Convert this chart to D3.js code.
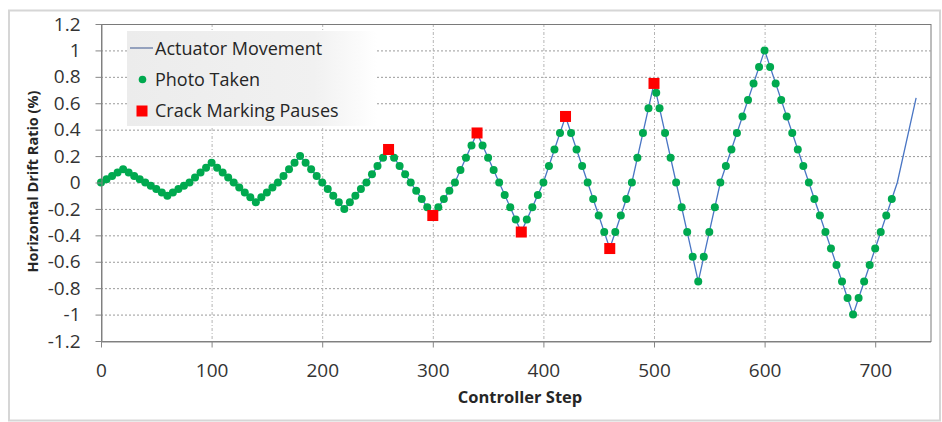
<!DOCTYPE html>
<html>
<head>
<meta charset="utf-8">
<script src="https://cdn.jsdelivr.net/npm/d3@7"></script>
<style>
  body { margin: 0; background: #fff; }
</style>
</head>
<body>
<svg id="chart" width="942" height="422"></svg>
<script>
// actuator path: peaks and zero crossings (controller step, drift %)
const actuator = [
    [0, 0], [20, 0.1], [40, 0], [60, -0.1], [80, 0], [100, 0.15], [120, 0], [140, -0.15],
    [160, 0], [180, 0.2], [200, 0], [220, -0.2], [240, 0], [260, 0.25], [280, 0], [300, -0.25],
    [320, 0], [340, 0.375], [360, 0], [380, -0.375], [400, 0], [420, 0.5], [440, 0], [460, -0.5],
    [480, 0], [500, 0.75], [520, 0], [540, -0.75], [560, 0], [600, 1.0], [640, 0], [680, -1.0],
    [720, 0], [737, 0.64]
];

// photo points
const photoTaken = [
    [0, 0], [5, 0.025], [10, 0.05], [15, 0.075], [20, 0.1],
    [25, 0.075], [30, 0.05], [35, 0.025], [40, 0], [45, -0.025], [50, -0.05], [55, -0.075], [60, -0.1],
    [65, -0.075], [70, -0.05], [75, -0.025], [80, 0], [85, 0.0375], [90, 0.075], [95, 0.1125], [100, 0.15],
    [105, 0.1125], [110, 0.075], [115, 0.0375], [120, 0], [125, -0.0375], [130, -0.075], [135, -0.1125], [140, -0.15],
    [145, -0.1125], [150, -0.075], [155, -0.0375], [160, 0], [165, 0.05], [170, 0.1], [175, 0.15], [180, 0.2],
    [185, 0.15], [190, 0.1], [195, 0.05], [200, 0], [205, -0.05], [210, -0.1], [215, -0.15], [220, -0.2],
    [225, -0.15], [230, -0.1], [235, -0.05], [240, 0], [245, 0.0625], [250, 0.125], [255, 0.1875], [260, 0.25],
    [265, 0.1875], [270, 0.125], [275, 0.0625], [280, 0], [285, -0.0625], [290, -0.125], [295, -0.1875], [300, -0.25],
    [305, -0.1875], [310, -0.125], [315, -0.0625], [320, 0], [325, 0.094], [330, 0.1875], [335, 0.281], [340, 0.375],
    [345, 0.281], [350, 0.1875], [355, 0.094], [360, 0], [365, -0.094], [370, -0.1875], [375, -0.281], [380, -0.375],
    [385, -0.281], [390, -0.1875], [395, -0.094], [400, 0], [405, 0.125], [410, 0.25], [415, 0.375], [420, 0.5],
    [425, 0.375], [430, 0.25], [435, 0.125], [440, 0], [445, -0.125], [450, -0.25], [455, -0.375], [460, -0.5],
    [465, -0.375], [470, -0.25], [475, -0.125], [480, 0], [485, 0.1875], [490, 0.375], [495, 0.5625], [500, 0.75], [502, 0.68],
    [505, 0.5625], [510, 0.375], [515, 0.1875], [520, 0], [525, -0.1875], [530, -0.375], [535, -0.5625], [540, -0.75],
    [545, -0.5625], [550, -0.375], [555, -0.1875], [560, 0], [565, 0.125], [570, 0.25], [575, 0.375], [580, 0.5],
    [585, 0.625], [590, 0.75], [595, 0.875], [600, 1.0],
    [605, 0.875], [610, 0.75], [615, 0.625], [620, 0.5], [625, 0.375], [630, 0.25], [635, 0.125], [640, 0],
    [645, -0.125], [650, -0.25], [655, -0.375], [660, -0.5], [665, -0.625], [670, -0.75], [675, -0.875], [680, -1.0],
    [685, -0.875], [690, -0.75], [695, -0.625], [700, -0.5], [705, -0.375], [710, -0.25], [715, -0.125]
];

const crackPauses = [[260, 0.25], [300, -0.25], [340, 0.375], [380, -0.375], [420, 0.5], [460, -0.5], [500, 0.75]];

const xTicks = [0, 100, 200, 300, 400, 500, 600, 700];
const yTicks = [-1.2, -1, -0.8, -0.6, -0.4, -0.2, 0, 0.2, 0.4, 0.6, 0.8, 1, 1.2];
const legendNames = ["Actuator Movement", "Photo Taken", "Crack Marking Pauses"];

const lineColor = "#4a76c4";
const dotColor = "#00a94f";
const pauseColor = "#ff0000";

let svg = d3.select("#chart");

let x = d3.scaleLinear().domain([0, 750]).range([101, 930.5]);
let y = d3.scaleLinear().domain([-1.2, 1.2]).range([341, 24]);

// outer chart frame
svg.append("rect")
    .attr("x", 9).attr("y", 10.5)
    .attr("width", 931).attr("height", 410)
    .attr("fill", "#fff")
    .attr("stroke", "#d6d6d6")
    .attr("stroke-width", 2);

// gridlines
svg.append("g").selectAll("line")
    .data(yTicks.slice(1, -1))
    .join("line")
    .attr("x1", x(0)).attr("x2", x(750))
    .attr("y1", d => y(d) + 0.5).attr("y2", d => y(d) + 0.5)
    .attr("stroke", "#9a9a9a")
    .attr("stroke-dasharray", "2,2");

svg.append("g").selectAll("line")
    .data(xTicks.slice(1))
    .join("line")
    .attr("x1", d => x(d) + 0.5).attr("x2", d => x(d) + 0.5)
    .attr("y1", y(1.2)).attr("y2", y(-1.2))
    .attr("stroke", "#b4b4b4")
    .attr("stroke-dasharray", "3,2,1,2");

// plot border
svg.append("rect")
    .attr("x", x(0) + 0.5).attr("y", y(1.2) + 0.5)
    .attr("width", x(750) - x(0)).attr("height", y(-1.2) - y(1.2))
    .attr("fill", "none")
    .attr("stroke", "#7a7a7a");

// legend
let grad = svg.append("defs").append("linearGradient").attr("id", "legendFill");
grad.append("stop").attr("offset", "0%").attr("stop-color", "#ececec");
grad.append("stop").attr("offset", "75%").attr("stop-color", "#f1f1f1");
grad.append("stop").attr("offset", "100%").attr("stop-color", "#ffffff");

let legend = svg.append("g");
legend.append("rect")
    .attr("x", 127).attr("y", 31)
    .attr("width", 250).attr("height", 95)
    .attr("fill", "url(#legendFill)");

legend.append("line")
    .attr("x1", 130).attr("x2", 153)
    .attr("y1", 48).attr("y2", 48)
    .attr("stroke", "#5a6f9e").attr("stroke-width", 1.2);
legend.append("circle")
    .attr("cx", 142.5).attr("cy", 79.5).attr("r", 3.8)
    .attr("fill", dotColor);
legend.append("rect")
    .attr("x", 136.5).attr("y", 105.5).attr("width", 11).attr("height", 11)
    .attr("fill", pauseColor);

legend.selectAll("text")
    .data(legendNames)
    .join("text")
    .attr("x", 155)
    .attr("y", (d, i) => 54.5 + i * 31)
    .style("font-family", "Open Sans")
    .style("font-size", "18px")
    .attr("fill", "#262626")
    .text(d => d);

// actuator movement
let line = d3.line()
    .x(d => x(d[0]))
    .y(d => y(d[1]));

svg.append("path")
    .datum(actuator)
    .attr("d", line)
    .attr("fill", "none")
    .attr("stroke", lineColor)
    .attr("stroke-width", 1.3);

// photos
svg.append("g").selectAll("circle")
    .data(photoTaken)
    .join("circle")
    .attr("cx", d => x(d[0]))
    .attr("cy", d => y(d[1]))
    .attr("r", 4)
    .attr("fill", dotColor);

// crack marking pauses
svg.append("g").selectAll("rect")
    .data(crackPauses)
    .join("rect")
    .attr("x", d => x(d[0]) - 5.5)
    .attr("y", d => y(d[1]) - 5.5)
    .attr("width", 11).attr("height", 11)
    .attr("fill", pauseColor);

// axes
let fmt = d => String(+d.toFixed(1));

let yAxis = svg.append("g")
    .attr("transform", "translate(" + (x(0) + 0.5) + ",0)")
    .call(d3.axisLeft(y).tickValues(yTicks).tickSize(6).tickSizeOuter(0).tickPadding(15).tickFormat(fmt));

let xAxis = svg.append("g")
    .attr("transform", "translate(0," + (y(-1.2) + 0.5) + ")")
    .call(d3.axisBottom(x).tickValues(xTicks).tickSize(6).tickSizeOuter(0).tickPadding(16).tickFormat(fmt));

[yAxis, xAxis].forEach(function (g) {
    g.select(".domain").attr("stroke", "#868686");
    g.selectAll(".tick line").attr("stroke", "#868686");
    g.selectAll("text")
        .style("font-family", "Open Sans")
        .style("font-size", "19px")
        .attr("fill", "#333");
});

// axis titles
svg.append("text")
    .attr("x", 520).attr("y", 403)
    .attr("text-anchor", "middle")
    .style("font-family", "Open Sans")
    .style("font-size", "16.5px")
    .style("font-weight", "bold")
    .attr("fill", "#262626")
    .text("Controller Step");

svg.append("text")
    .attr("transform", "translate(37.5,181.5) rotate(-90)")
    .attr("text-anchor", "middle")
    .style("font-family", "Open Sans")
    .style("font-size", "14.5px")
    .style("font-weight", "bold")
    .attr("fill", "#262626")
    .text("Horizontal Drift Ratio (%)");
</script>
</body>
</html>
